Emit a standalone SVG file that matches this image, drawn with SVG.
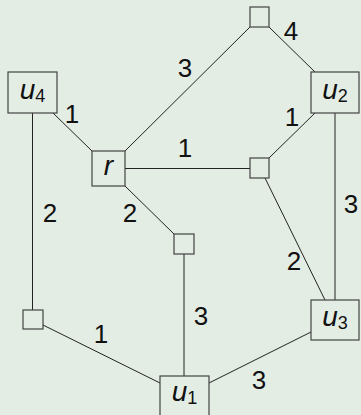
<svg xmlns="http://www.w3.org/2000/svg" width="361" height="415" viewBox="0 0 361 415">
<style>
.bg{fill:#e4ede4}
.box{fill:#e4ede4;stroke:#444;stroke-width:1.2}
.edge{stroke:#222;stroke-width:1;fill:none}
.lbl{font-family:"Liberation Sans",Arial,sans-serif;font-size:26px;fill:#111;text-anchor:middle}
.nt{font-family:"Liberation Sans",Arial,sans-serif;font-size:28px;font-style:italic;fill:#111;text-anchor:middle}
.sub{font-size:18px;font-style:normal}
</style>
<rect class="bg" x="0" y="0" width="361" height="415"/>
<g id="connectors">
<line class="edge" x1="53" y1="113" x2="92" y2="151"/>
<line class="edge" x1="125" y1="151" x2="250" y2="27"/>
<line class="edge" x1="269" y1="27" x2="315" y2="72"/>
<line class="edge" x1="125" y1="168.5" x2="250" y2="168.5"/>
<line class="edge" x1="315" y1="113" x2="269" y2="158"/>
<line class="edge" x1="265" y1="178" x2="325" y2="300"/>
<line class="edge" x1="335" y1="113" x2="335" y2="300"/>
<line class="edge" x1="125" y1="186" x2="174" y2="234"/>
<line class="edge" x1="184" y1="254" x2="184" y2="376"/>
<line class="edge" x1="32.5" y1="113" x2="32.5" y2="310"/>
<line class="edge" x1="43" y1="325" x2="160" y2="383"/>
<line class="edge" x1="209" y1="383" x2="311" y2="332"/>
</g>
<g id="n-u4"><rect class="box" x="8" y="72" width="49" height="41"/><text class="nt" x="32.5" y="99">u<tspan class="sub" dy="3">4</tspan></text></g>
<g id="n-r"><rect class="box" x="92" y="151" width="33" height="35"/><text class="nt" x="108.5" y="175">r</text></g>
<g id="n-top"><rect class="box" x="250" y="7" width="19" height="20"/></g>
<g id="n-u2"><rect class="box" x="311" y="72" width="48" height="41"/><text class="nt" x="335" y="98.5">u<tspan class="sub" dy="3">2</tspan></text></g>
<g id="n-mid"><rect class="box" x="250" y="158" width="19" height="20"/></g>
<g id="n-small"><rect class="box" x="174" y="234" width="20" height="20"/></g>
<g id="n-left"><rect class="box" x="23" y="310" width="20" height="19"/></g>
<g id="n-u3"><rect class="box" x="311" y="300" width="48" height="40"/><text class="nt" x="335" y="326">u<tspan class="sub" dy="3">3</tspan></text></g>
<g id="n-u1"><rect class="box" x="160" y="376" width="49" height="42"/><text class="nt" x="184.5" y="401">u<tspan class="sub" dy="3">1</tspan></text></g>
<g id="labels">
<text class="lbl" x="72" y="123">1</text>
<text class="lbl" x="185" y="77">3</text>
<text class="lbl" x="291" y="40">4</text>
<text class="lbl" x="292" y="126">1</text>
<text class="lbl" x="185" y="157">1</text>
<text class="lbl" x="50" y="222">2</text>
<text class="lbl" x="130" y="222">2</text>
<text class="lbl" x="351" y="213">3</text>
<text class="lbl" x="294" y="270">2</text>
<text class="lbl" x="201" y="325">3</text>
<text class="lbl" x="101" y="343">1</text>
<text class="lbl" x="259" y="389">3</text>
</g>
</svg>
